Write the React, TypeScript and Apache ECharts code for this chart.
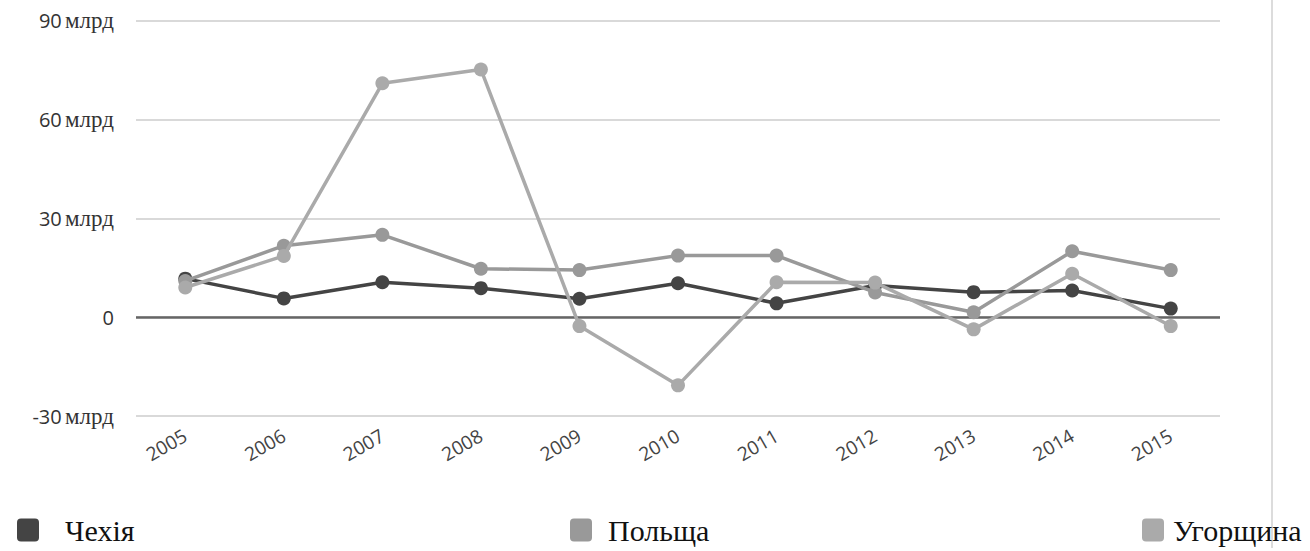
import React, { useEffect, useRef } from "react";
import * as echarts from "echarts";

const years = ["2005", "2006", "2007", "2008", "2009", "2010", "2011", "2012", "2013", "2014", "2015"];
const czech = [11.7, 5.7, 10.6, 8.8, 5.6, 10.3, 4.2, 9.6, 7.6, 8.1, 2.6];
const poland = [11.0, 21.7, 25.0, 14.7, 14.3, 18.7, 18.7, 7.5, 1.5, 20.0, 14.3];
const hungary = [9.0, 18.6, 71.0, 75.2, -2.7, -20.7, 10.6, 10.5, -3.7, 13.2, -2.7];
const seriesNames = ["Чехія", "Польща", "Угорщина"];
const seriesColors = ["#444444", "#999999", "#aaaaaa"];

const ICON = "path://M4,0 H18 A4,4 0 0 1 22,4 V19 A4,4 0 0 1 18,23 H4 A4,4 0 0 1 0,19 V4 A4,4 0 0 1 4,0 Z";

export default function App() {
  const ref = useRef<HTMLDivElement>(null);
  useEffect(() => {
    if (!ref.current) return;
    const chart = echarts.init(ref.current, null, { renderer: "svg" });
    const datas = [czech, poland, hungary];
    const legendFont = { fontFamily: "Liberation Serif", fontSize: 30, color: "#111" };
    chart.setOption({
      animation: false,
      backgroundColor: "#ffffff",
      grid: { left: 136, right: 90, top: 20.7, bottom: 135, containLabel: false },
      legend: [
        {
          data: [seriesNames[0]], left: 12, top: 510, icon: ICON, itemWidth: 22, itemHeight: 23,
          textStyle: { ...legendFont, padding: [-12, 0, 0, 21] },
        },
        {
          data: [seriesNames[1]], left: 565, top: 510, icon: ICON, itemWidth: 22, itemHeight: 23,
          textStyle: { ...legendFont, padding: [-12, 0, 0, 11] },
        },
        {
          data: [seriesNames[2]], left: 1137, top: 510, icon: ICON, itemWidth: 22, itemHeight: 23,
          textStyle: { ...legendFont, padding: [20, 0, 0, 4] },
        },
      ],
      xAxis: {
        type: "category",
        data: years,
        boundaryGap: true,
        axisLine: { show: false },
        axisTick: { show: false },
        axisLabel: { rotate: 30, margin: 18, fontFamily: "Open Sans", fontSize: 19, color: "#444" },
      },
      yAxis: {
        type: "value",
        min: -30,
        max: 90,
        interval: 30,
        axisLine: { show: false },
        axisTick: { show: false },
        splitLine: { lineStyle: { color: "#cccccc", width: 1.5 } },
        axisLabel: {
          margin: 22,
          formatter: (v: number) => (v === 0 ? "{n|0}" : `{n|${v}} {m|млрд}`),
          rich: {
            n: { fontFamily: "Open Sans", fontSize: 20, color: "#333" },
            m: { fontFamily: "Liberation Serif", fontSize: 23, color: "#333" },
          },
        },
      },
      graphic: [
        { type: "line", shape: { x1: 1272, y1: 0, x2: 1272, y2: 548 }, style: { stroke: "#d0d0d0", lineWidth: 1.5 } },
      ],
      series: seriesNames.map((name, i) => ({
        name,
        type: "line",
        data: datas[i],
        symbol: "circle",
        symbolSize: 14,
        color: seriesColors[i],
        lineStyle: { width: 3.5, color: seriesColors[i] },
        itemStyle: { color: seriesColors[i] },
        z: 3 + i,
        markLine:
          i === 0
            ? {
                silent: true,
                symbol: "none",
                label: { show: false },
                lineStyle: { color: "#666666", width: 2.5, type: "solid" },
                data: [{ yAxis: 0 }],
                z: 1,
              }
            : undefined,
      })),
    });
    return () => chart.dispose();
  }, []);
  return <div ref={ref} style={{ position: "fixed", left: 0, top: 0, width: 1310, height: 551 }} />;
}
